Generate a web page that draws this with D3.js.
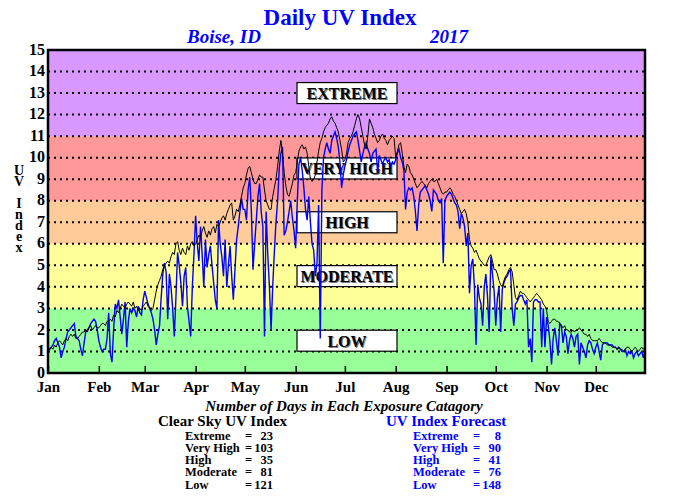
<!DOCTYPE html>
<html>
<head>
<meta charset="utf-8">
<script src="https://cdn.jsdelivr.net/npm/d3@7"></script>
<style>
  body { margin: 0; background: #fff; }
  svg { display: block; }
  text { font-family: "Liberation Serif", "Times New Roman", serif; font-weight: bold; }
</style>
</head>
<body>
<svg id="chart" width="680" height="500"></svg>
<script>
const monthLabels = ["Jan", "Feb", "Mar", "Apr", "May", "Jun", "Jul", "Aug", "Sep", "Oct", "Nov", "Dec"];
const monthStarts = [0, 31, 59, 90, 120, 151, 181, 212, 243, 273, 304, 334];
const yTicks = [0, 1, 2, 3, 4, 5, 6, 7, 8, 9, 10, 11, 12, 13, 14, 15];

const bandBreaks = [0, 3, 6, 8, 11, 15];
const bandColors = ["#99ff99", "#ffff99", "#ffcc99", "#ff9999", "#d898ff"];
const bandLabels = ["LOW", "MODERATE", "HIGH", "VERY HIGH", "EXTREME"];
const bandLabelValues = [1.5, 4.5, 7, 9.5, 13];

const categories = ["Extreme", "Very High", "High", "Moderate", "Low"];
const clearSkyDays = [23, 103, 35, 81, 121];
const forecastDays = [8, 90, 41, 76, 148];

// clear sky UV index, one value per day (black line)
const clearSky = [
  1.0, 1.1, 1.2, 1.1, 1.3, 1.2, 1.4, 1.5, 1.4, 1.3, 1.5, 1.6, 1.5, 1.7, 1.8, 1.7, 1.8, 1.6, 1.6, 1.7, 1.8, 1.9, 1.9, 2.0, 1.9, 2.1, 2.2, 2.0, 2.1, 2.2, 2.1,
  2.1, 2.2, 2.3, 2.3, 2.2, 2.4, 2.4, 2.5, 2.4, 2.7, 2.6, 2.9, 2.8, 3.0, 3.2, 3.1, 3.0, 3.2, 3.3, 3.2, 3.1, 3.3, 3.0, 3.1, 2.9, 3.0, 2.9, 3.1,
  3.2, 3.3, 3.1, 3.0, 2.9, 3.0, 3.4, 3.8, 4.1, 4.3, 4.5, 4.8, 5.0, 5.1, 5.2, 5.1, 5.4, 5.6, 5.5, 6.0, 6.1, 5.7, 5.5, 5.8, 5.6, 5.5, 5.9, 5.7, 6.0, 6.1, 5.9,
  6.0, 6.2, 6.4, 6.3, 6.6, 6.8, 6.5, 6.3, 6.6, 6.4, 6.7, 6.8, 6.5, 6.9, 6.8, 7.0, 7.2, 7.3, 7.1, 7.4, 7.6, 7.8, 7.9, 7.1, 7.3, 7.6, 7.5, 7.8, 8.2, 8.6,
  8.8, 9.2, 9.5, 9.6, 9.3, 9.0, 8.8, 8.8, 9.0, 9.2, 9.1, 9.1, 8.5, 8.0, 7.8, 7.6, 7.6, 8.2, 8.6, 9.0, 9.6, 10.3, 10.8, 10.2, 9.3, 8.7, 8.3, 8.2, 8.5, 8.8, 9.2,
  9.3, 9.8, 10.3, 10.5, 10.6, 10.4, 10.5, 10.2, 9.6, 9.0, 8.9, 9.0, 9.2, 9.8, 10.3, 10.7, 10.9, 11.2, 11.4, 11.5, 11.6, 11.8, 11.9, 11.7, 11.6, 11.4, 11.2, 10.8, 10.4, 9.8,
  9.9, 10.2, 10.7, 10.9, 11.0, 11.2, 11.5, 11.8, 12.0, 11.8, 11.4, 11.0, 10.6, 10.4, 11.0, 11.8, 11.6, 11.4, 11.1, 10.9, 10.7, 10.8, 11.0, 11.1, 10.9, 10.8, 10.6, 10.8, 10.9, 11.0, 10.9,
  10.0, 10.3, 10.6, 10.7, 10.2, 9.6, 9.3, 9.7, 9.6, 9.3, 9.2, 9.0, 8.8, 8.6, 8.7, 8.8, 8.9, 8.8, 8.7, 8.6, 8.8, 8.9, 9.0, 8.9, 8.9, 9.0, 8.8, 8.6, 8.4, 8.3, 8.4,
  8.4, 8.5, 8.6, 8.5, 8.3, 8.2, 8.0, 7.8, 7.6, 7.4, 7.5, 7.6, 7.4, 7.0, 6.2, 5.9, 5.8, 5.6, 5.7, 5.5, 5.3, 5.2, 5.1, 5.0, 5.0, 5.2, 5.4, 5.5, 5.2, 4.8,
  4.8, 4.6, 4.3, 4.1, 4.0, 4.3, 4.5, 4.6, 4.8, 4.9, 4.7, 4.1, 3.5, 3.4, 3.6, 3.8, 3.7, 3.7, 3.6, 3.5, 3.4, 3.3, 3.4, 3.5, 3.6, 3.7, 3.6, 3.5, 3.4, 3.2, 3.1,
  2.9, 2.4, 2.3, 2.4, 2.5, 2.5, 2.4, 2.4, 2.3, 2.2, 2.1, 2.2, 2.0, 2.0, 1.9, 1.9, 2.0, 1.9, 2.0, 2.0, 2.1, 2.0, 1.9, 1.8, 1.8, 1.7, 1.8, 1.6, 1.5, 1.5,
  1.5, 1.5, 1.6, 1.5, 1.4, 1.4, 1.4, 1.3, 1.3, 1.3, 1.2, 1.2, 1.2, 1.1, 1.2, 1.1, 1.1, 1.0, 1.1, 1.2, 1.2, 1.1, 1.0, 1.1, 1.2, 1.1, 1.0, 1.1, 1.2, 1.1, 1.2,
];

// forecast UV index, one value per day (blue line)
const forecast = [
  1.2, 1.1, 1.2, 1.3, 1.5, 1.6, 1.4, 1.2, 0.7, 1.0, 1.2, 1.6, 1.9, 2.0, 2.1, 2.2, 2.3, 1.7, 1.6, 1.5, 1.1, 0.8, 1.4, 1.9, 2.0, 2.1, 2.3, 2.4, 2.5, 2.4, 2.0,
  1.5, 1.2, 1.0, 1.1, 1.1, 1.6, 2.8, 0.9, 0.5, 2.0, 3.2, 3.0, 3.4, 2.6, 1.8, 2.5, 3.3, 1.2, 2.4, 3.0, 2.8, 3.0, 2.9, 2.6, 3.1, 2.8, 2.7, 3.4,
  3.8, 3.5, 3.2, 3.0, 2.8, 2.5, 2.0, 1.3, 1.8, 2.2, 3.5, 4.6, 5.1, 4.7, 2.5, 4.6, 4.0, 3.0, 1.7, 3.5, 5.6, 5.0, 4.2, 3.1, 4.5, 4.9, 3.1, 2.4, 1.7, 4.0, 5.5,
  7.3, 6.0, 5.2, 6.8, 5.5, 4.0, 6.2, 4.9, 5.5, 5.9, 5.0, 4.2, 3.4, 3.0, 7.1, 6.0, 5.4, 4.5, 6.2, 4.0, 5.0, 5.9, 4.5, 3.4, 4.8, 6.2, 6.8, 7.5, 8.1, 7.6,
  7.6, 7.1, 8.5, 9.1, 7.5, 4.8, 6.0, 7.1, 8.2, 8.8, 7.5, 6.8, 1.7, 7.5, 5.5, 4.0, 2.0, 4.0, 5.6, 7.0, 8.0, 9.5, 10.2, 10.5, 6.4, 6.6, 7.0, 7.5, 8.0, 7.2, 6.6,
  5.8, 8.0, 9.7, 10.0, 9.4, 8.6, 7.6, 7.1, 8.2, 7.0, 6.0, 5.7, 4.5, 5.1, 7.8, 1.6, 8.5, 10.0, 10.4, 10.7, 10.4, 10.2, 10.8, 11.0, 11.2, 10.9, 10.5, 9.8, 8.6, 9.2,
  9.6, 9.9, 10.3, 10.6, 10.8, 11.0, 11.1, 11.2, 10.8, 10.3, 9.8, 10.2, 10.5, 10.7, 10.4, 10.2, 9.8, 10.2, 10.3, 10.4, 9.3, 10.1, 9.9, 9.7, 9.9, 10.0, 9.8, 9.9, 9.6, 9.8, 9.7,
  9.9, 10.2, 10.4, 10.0, 9.8, 9.4, 7.6, 8.4, 8.6, 8.5, 8.6, 8.2, 7.5, 6.6, 7.8, 8.4, 8.5, 8.6, 8.7, 8.5, 8.3, 8.0, 7.5, 8.5, 8.4, 8.3, 8.0, 7.9, 8.1, 5.1, 8.0,
  8.2, 8.3, 8.4, 8.3, 8.1, 7.9, 7.8, 7.5, 6.7, 7.4, 7.2, 6.8, 5.9, 6.5, 3.7, 5.0, 5.3, 4.0, 1.3, 4.1, 3.5, 3.2, 2.2, 4.0, 4.6, 3.5, 1.9, 5.4, 4.6, 3.8,
  2.2, 3.5, 4.0, 1.9, 3.9, 4.2, 4.4, 4.5, 4.7, 4.8, 3.0, 2.2, 3.2, 3.3, 3.5, 3.6, 3.6, 3.4, 3.2, 3.4, 1.2, 1.6, 0.5, 3.3, 3.4, 3.4, 3.3, 3.3, 1.2, 3.0, 1.2,
  2.6, 2.2, 1.5, 0.4, 1.6, 2.1, 1.5, 0.8, 2.3, 2.2, 1.4, 1.9, 1.7, 0.9, 1.5, 1.8, 1.6, 1.2, 1.7, 1.8, 0.4, 1.4, 1.2, 1.0, 0.7, 1.3, 1.5, 1.4, 1.1, 0.9,
  1.2, 1.4, 1.0, 0.6, 1.3, 1.4, 1.4, 1.4, 1.3, 1.3, 1.3, 1.2, 1.2, 1.1, 1.2, 1.1, 1.0, 1.0, 1.1, 0.8, 1.0, 0.9, 1.0, 0.7, 0.9, 1.0, 0.8, 0.9, 1.0, 0.7, 1.1,
];

const svg = d3.select('#chart');
const plotLeft = 48;
const plotRight = 645;
const plotTop = 50;
const plotBottom = 373;

const x = d3.scaleLinear().domain([0, 364]).range([plotLeft, plotRight]);
const y = d3.scaleLinear().domain([0, 15]).range([plotBottom, plotTop]);

// Exposure bands
svg.append('g')
  .selectAll('rect')
  .data(bandColors)
  .join('rect')
  .attr('x', plotLeft)
  .attr('width', plotRight - plotLeft)
  .attr('y', (d, i) => y(bandBreaks[i + 1]))
  .attr('height', (d, i) => y(bandBreaks[i]) - y(bandBreaks[i + 1]))
  .attr('fill', (d) => d);

// Dotted grid lines
svg.append('g')
  .selectAll('line')
  .data(yTicks.filter((v) => v > 0 && v < 15))
  .join('line')
  .attr('x1', plotLeft)
  .attr('x2', plotRight)
  .attr('y1', (d) => y(d))
  .attr('y2', (d) => y(d))
  .attr('stroke', '#000')
  .attr('stroke-width', 2)
  .attr('stroke-dasharray', '2 4');

// Category boxes
const boxes = svg.append('g')
  .selectAll('g')
  .data(bandLabels)
  .join('g')
  .attr('transform', (d, i) => `translate(347,${y(bandLabelValues[i])})`);
boxes.append('rect')
  .attr('x', -50)
  .attr('y', -10.5)
  .attr('width', 100)
  .attr('height', 21)
  .attr('fill', '#fff')
  .attr('stroke', '#000')
  .attr('stroke-width', 1.2);
boxes.append('text')
  .attr('x', 1)
  .attr('y', 7)
  .attr('text-anchor', 'middle')
  .attr('font-size', 16)
  .attr('fill', '#777')
  .text((d) => d);
boxes.append('text')
  .attr('y', 6)
  .attr('text-anchor', 'middle')
  .attr('font-size', 16)
  .attr('fill', '#000')
  .text((d) => d);

// Daily lines
const line = d3.line()
  .x((d, i) => x(i))
  .y((d) => y(d));

svg.append('path')
  .datum(forecast)
  .attr('d', line)
  .attr('fill', 'none')
  .attr('stroke', '#0000ff')
  .attr('stroke-width', 1.4);

svg.append('path')
  .datum(clearSky)
  .attr('d', line)
  .attr('fill', 'none')
  .attr('stroke', '#000')
  .attr('stroke-width', 1);

// Frame
svg.append('rect')
  .attr('x', plotLeft)
  .attr('y', plotTop)
  .attr('width', plotRight - plotLeft)
  .attr('height', plotBottom - plotTop)
  .attr('fill', 'none')
  .attr('stroke', '#000')
  .attr('stroke-width', 2.5);

// Axes
const yAxis = svg.append('g')
  .attr('transform', `translate(${plotLeft},0)`)
  .call(d3.axisLeft(y).tickValues(yTicks).tickSize(0).tickPadding(3));
yAxis.select('.domain').remove();
yAxis.selectAll('text')
  .attr('font-size', 16)
  .attr('dy', '0.26em')
  .attr('font-family', '"Liberation Serif", serif')
  .attr('fill', '#000');

const xAxis = svg.append('g')
  .attr('transform', `translate(0,${plotBottom})`)
  .call(d3.axisBottom(x).tickValues(monthStarts)
    .tickFormat((d, i) => monthLabels[i]).tickSize(-7).tickPadding(8));
xAxis.select('.domain').remove();
xAxis.selectAll('line').attr('stroke', '#000').attr('stroke-width', 1.5);
xAxis.selectAll('text')
  .attr('font-size', 15)
  .attr('font-family', '"Liberation Serif", serif')
  .attr('fill', '#000');

// Y axis title, upright letters stacked vertically
svg.append('text')
  .attr('x', 19)
  .attr('y', 163)
  .attr('font-size', 14)
  .style('writing-mode', 'vertical-rl')
  .style('text-orientation', 'upright')
  .style('letter-spacing', '-4px')
  .text('UV Index');

// Titles
svg.append('text')
  .attr('x', 340)
  .attr('y', 25)
  .attr('text-anchor', 'middle')
  .attr('font-size', 23)
  .attr('fill', '#0000ff')
  .text('Daily UV Index');
svg.append('text')
  .attr('x', 187)
  .attr('y', 43)
  .attr('font-size', 19)
  .attr('font-style', 'italic')
  .attr('fill', '#0000ff')
  .text('Boise, ID');
svg.append('text')
  .attr('x', 430)
  .attr('y', 43)
  .attr('font-size', 19)
  .attr('font-style', 'italic')
  .attr('fill', '#0000ff')
  .text('2017');

// Exposure day counts
svg.append('text')
  .attr('x', 344)
  .attr('y', 411)
  .attr('text-anchor', 'middle')
  .attr('font-size', 15)
  .attr('font-style', 'italic')
  .text('Number of Days in Each Exposure Catagory');

function countTable(title, counts, x0, color) {
  const g = svg.append('g').attr('fill', color);
  g.append('text')
    .attr('x', x0)
    .attr('y', 426)
    .attr('font-size', 15)
    .text(title);
  const rows = g.selectAll('g.row')
    .data(categories)
    .join('g')
    .attr('class', 'row')
    .attr('transform', (d, i) => `translate(${x0 + 27},${439.5 + i * 12.3})`);
  rows.append('text').attr('font-size', 12.5).text((d) => d);
  rows.append('text').attr('x', 60).attr('font-size', 12.5).text('=');
  rows.append('text')
    .attr('x', 88)
    .attr('text-anchor', 'end')
    .attr('font-size', 12.5)
    .text((d, i) => counts[i]);
}

countTable('Clear Sky UV Index', clearSkyDays, 158, '#000');
countTable('UV Index Forecast', forecastDays, 386, '#0000ff');
</script>
</body>
</html>
